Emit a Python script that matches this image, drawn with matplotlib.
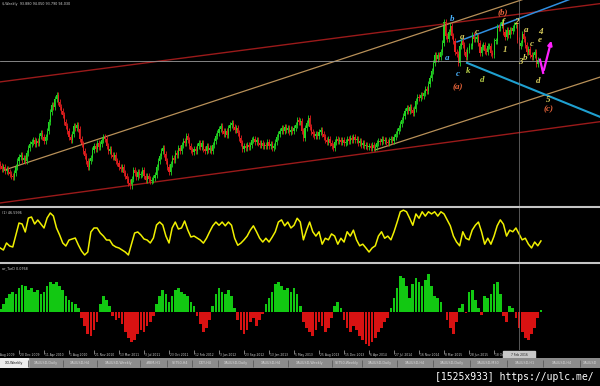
import numpy as np
import matplotlib.pyplot as plt
from matplotlib.patches import Rectangle

W, H = 600, 386


def px_rect(x0, y0, x1, y1):
    # figure rectangle from pixel box (top-left origin)
    return [x0 / W, 1 - y1 / H, (x1 - x0) / W, (y1 - y0) / H]


# ---- data: weekly closes, week 0 = 30 Aug 2009 ----
first_week = 4
first_open = 76.5
closes = [76.2, 75.6, 75.9, 75.3, 75.6, 75.1,
          74.8, 74.5, 74.3,
          74.9, 75.9, 76.9, 77.6,
          77.9, 77.1, 77.5, 76.9,
          78.3, 79.2, 79.8, 80.2,
          80.4, 79.8, 80.3, 79.9,
          81.1, 81.6, 81.0,
          80.3,
          81.0, 81.9, 83.4, 85.1,
          86.3, 86.0, 87.3, 88.0,
          86.7, 86.0, 85.2, 84.6, 83.5,
          82.8, 82.0, 81.0, 80.4, 81.5, 82.7, 82.4, 83.0, 82.3, 80.6, 79.8, 78.6, 77.8, 77.0, 76.0, 76.9,
          77.5, 78.8, 79.5, 79.0, 79.9, 79.3, 79.8,
          80.4, 81.0, 80.6,
          79.4, 78.6, 78.9, 78.0, 77.6,
          77.9, 77.0, 76.6, 76.0, 75.6, 75.9, 75.0, 74.4, 73.9, 73.4, 72.9,
          74.0, 75.5, 75.0, 74.3, 75.2, 74.6, 74.8, 75.4, 74.4, 73.8, 74.5, 74.0, 73.6,
          73.8, 74.2, 74.6,
          76.0, 77.0, 77.8, 78.6, 79.1,
          78.2, 77.0, 76.0, 75.1,
          76.4, 77.5, 77.2, 78.3, 78.0, 79.2,
          78.7, 79.6, 80.3, 80.0, 81.2,
          80.4, 79.5, 78.8, 78.4,
          78.9, 78.6, 79.5, 79.9, 79.3,
          80.0, 79.0, 78.6,
          79.4, 78.8, 79.2, 78.7,
          79.6, 80.3, 81.1, 81.6, 82.3, 82.8,
          82.0, 81.5, 81.9, 81.3,
          82.4, 83.0, 83.3,
          82.6, 82.2, 82.5, 81.6, 80.8, 79.9, 79.0,
          79.4, 79.2, 79.6, 79.3, 79.7,
          80.4, 80.6, 80.1, 80.5,
          79.9, 79.6, 80.0, 79.4, 79.7, 79.5,
          80.1, 79.4, 79.8, 79.2, 79.5,
          80.2, 80.9, 81.5, 81.9, 82.5,
          82.0, 82.6, 82.1, 82.4, 81.8, 82.2, 81.9, 82.5,
          83.0, 83.8, 83.4, 83.6,
          81.9, 80.8,
          82.4, 83.3, 84.1,
          82.6, 81.8, 81.4, 81.1,
          81.5, 81.1, 81.8, 82.1,
          81.4, 80.9, 80.5, 80.2, 80.6, 79.9, 79.4, 79.1,
          80.2, 80.6, 80.3,
          80.5, 80.1, 80.4, 80.0,
          80.2, 80.6, 80.3, 80.8, 80.5, 80.9, 80.4, 80.7,
          80.0, 80.3, 79.7, 79.9, 79.4, 79.6, 79.3,
          79.5, 79.2, 79.6, 79.1, 79.3,
          79.9, 80.3, 80.1, 80.6, 80.3, 80.5, 80.2,
          80.0, 80.4, 80.7, 80.3, 81.0,
          81.5, 81.9, 82.4, 83.1, 83.8, 84.4,
          85.2, 85.8, 85.3, 86.0, 85.4,
          84.9, 85.6,
          87.0, 87.6, 87.4, 88.0,
          87.7, 88.3, 88.9, 88.6,
          89.8, 90.7, 91.9, 93.2,
          94.5, 93.9, 94.6, 94.3, 95.1, 96.6,
          100.0, 97.8, 97.3, 98.4, 99.4, 97.8, 96.9, 95.1, 94.7, 93.3,
          96.0, 96.9, 96.3, 95.0, 94.2, 95.4, 96.0, 96.1, 97.9, 97.2,
          97.3, 97.5, 96.5, 94.9, 95.9, 96.2, 95.2, 95.1, 96.1, 96.1,
          94.9, 94.6, 96.9, 96.9, 99.2, 99.0, 99.6, 100.0, 98.4, 97.5,
          98.7, 97.9, 98.7, 98.5, 99.0, 99.6, 99.6, 97.0, 96.0, 96.6,
          98.1, 97.3, 96.2, 95.1, 95.6, 94.6, 94.2, 94.6, 95.1, 93.1,
          93.8]

# oscillator, every 2 weeks from week 4
osc = [25.9, 22.2, 35.2, 29.6, 27.8, 50, 72.2, 70.4, 55.6, 81.5, 83.3, 70.4, 77.8, 70.4, 63, 81.5,
       90.7, 85.2, 63, 50, 35.2, 29.6, 40.7, 42.6, 44.4, 31.5, 20.4, 13, 18.5, 55.6, 63, 63,
       53.7, 48.1, 40.7, 40.7, 31.5, 27.8, 25.9, 22.2, 18.5, 13, 33.3, 53.7, 55.6, 50, 42.6, 40.7,
       35.2, 44.4, 68.5, 74, 68.5, 48.1, 35.2, 63, 74, 61.1, 63, 75.9, 59.3, 46.3, 48.1, 44.4,
       40.7, 35, 44, 56, 67, 74, 68, 74, 67, 74, 68, 44, 31, 35, 41, 48, 59, 67, 56, 44,
       37, 44, 37, 46, 56, 74, 78, 67, 74, 63, 68, 81, 74, 41, 59, 74, 56, 48, 56, 33,
       44, 41, 52, 48, 33, 44, 37, 56, 48, 59, 41, 30, 33, 26, 18.5, 26, 30, 48, 56, 44,
       48, 41, 56, 74, 93, 96, 93, 81, 68, 89, 81, 93, 85, 93, 89, 93, 85, 93, 89, 78,
       67, 48, 37, 30, 56, 44, 41, 59, 68, 74, 56, 33, 44, 33, 48, 67, 78, 70, 48, 59,
       56, 63, 52, 41, 44, 33, 26, 37, 30, 39]

# histogram, every 2 weeks from week 4
hist = [0.006, 0.016, 0.028, 0.036, 0.040, 0.036, 0.048, 0.054, 0.052, 0.044,
        0.048, 0.040, 0.044, 0.036, 0.040, 0.052, 0.060, 0.056, 0.060, 0.052,
        0.044, 0.032, 0.024, 0.020, 0.016, 0.008, -0.012, -0.028, -0.044, -0.048,
        -0.036, -0.020, 0.016, 0.032, 0.024, 0.012, -0.008, -0.016, -0.012, -0.024,
        -0.040, -0.052, -0.060, -0.056, -0.044, -0.036, -0.040, -0.028, -0.020, -0.008,
        0.016, 0.032, 0.044, 0.036, 0.020, 0.032, 0.044, 0.048, 0.040, 0.036,
        0.032, 0.020, 0.012, -0.008, -0.024, -0.040, -0.032, -0.016, 0.012, 0.036,
        0.048, 0.040, 0.036, 0.044, 0.032, 0.008, -0.016, -0.036, -0.044, -0.036,
        -0.020, -0.012, -0.028, -0.016, -0.004, 0.016, 0.028, 0.040, 0.056, 0.060,
        0.052, 0.044, 0.048, 0.040, 0.048, 0.036, 0.012, -0.020, -0.032, -0.040,
        -0.048, -0.036, -0.020, -0.028, -0.040, -0.032, -0.012, 0.012, 0.020, 0.008,
        -0.016, -0.032, -0.040, -0.028, -0.036, -0.048, -0.056, -0.064, -0.068, -0.060,
        -0.052, -0.040, -0.032, -0.020, -0.012, 0.008, 0.028, 0.048, 0.072, 0.068,
        0.052, 0.028, 0.056, 0.068, 0.060, 0.052, 0.064, 0.076, 0.052, 0.032,
        0.028, 0.020, 0.000, -0.016, -0.032, -0.044, -0.020, 0.008, 0.016, -0.002,
        0.040, 0.044, 0.024, 0.008, -0.006, 0.032, 0.028, 0.036, 0.056, 0.060,
        0.036, -0.008, -0.020, 0.012, 0.008, -0.012, -0.032, -0.040, -0.052, -0.056,
        -0.044, -0.032, -0.012, 0.004]

date_labels = ['30 Aug 2009', '20 Dec 2009', '11 Apr 2010', '1 Aug 2010', '21 Nov 2010',
               '13 Mar 2011', '3 Jul 2011', '23 Oct 2011', '12 Feb 2012', '3 Jun 2012',
               '23 Sep 2012', '13 Jan 2013', '5 May 2013', '25 Aug 2013', '15 Dec 2013',
               '6 Apr 2014', '27 Jul 2014', '16 Nov 2014', '8 Mar 2015', '28 Jun 2015',
               '18 Oct 2015']
cursor_week = 336
cursor_price = 93.6
cursor_date = '7 Feb 2016'

# trend lines (week, price) pairs
trend_lines = [
    ((3.8, 90.1), (387.8, 103.1), '#9a1a1a', 1.0),   # upper red
    ((7.0, 75.5), (387.8, 108.0), '#b89058', 0.9),   # upper tan
    ((3.8, 70.0), (387.8, 83.5), '#9a1a1a', 1.0),    # lower red
    ((243.8, 78.8), (387.8, 90.9), '#b89058', 0.9),  # lower tan
    ((296.3, 96.75), (387.8, 105.7), '#2f8fe0', 1.1),  # blue channel top
    ((302.7, 93.26), (387.8, 84.3), '#1fa0d0', 1.5),   # cyan channel bottom
]
arrow_pts = [(349.4, 93.8), (351.4, 91.6), (357.1, 97.4)]

# wave labels: text, week, price, colour
wave_labels = [
    ('b', 293.1, 100.6, '#4ab4ff'), ('a', 289.9, 94.1, '#4ab4ff'),
    ('(b)', 325.8, 101.6, '#e8643a'), ('a', 299.5, 97.6, '#d8cc5c'),
    ('c', 309.1, 98.4, '#d8cc5c'), ('f', 325.8, 100.1, '#d8cc5c'),
    ('2', 334.1, 100.1, '#d8cc5c'), ('a', 340.5, 98.7, '#d8cc5c'),
    ('4', 349.4, 98.4, '#d8cc5c'), ('e', 349.4, 97.1, '#d8cc5c'),
    ('1', 327.0, 95.4, '#d8cc5c'), ('c', 344.3, 96.4, '#d8cc5c'),
    ('3', 336.6, 93.4, '#d8cc5c'), ('b', 339.8, 94.1, '#d8cc5c'),
    ('c', 296.9, 91.4, '#4ab4ff'), ('k', 303.4, 91.9, '#b8d048'),
    ('d', 312.3, 90.4, '#b8d048'), ('d', 348.2, 90.3, '#d8cc5c'),
    ('(a)', 296.9, 89.3, '#e8643a'), ('5', 354.6, 87.1, '#d8cc5c'),
    ('(c)', 354.6, 85.5, '#e8643a'),
]

tab_names = ['XD,Weekly', 'XAUUSD,Daily', 'XAUUSD,H4', 'XAUUSD,Weekly', '#IBM,H1',
             'SET50,H4', 'DXY,H4', 'XAUUSD,Daily', 'XAUUSD,H4', 'XAUUSD,Weekly',
             'SET50,Weekly', 'XAUUSD,Daily', 'XAUUSD,H4', 'XAUUSD,Daily', 'XAUUSD,M30',
             'XAUUSD,H1', 'XAUUSD,H4', 'XAUUSD']
tab_edges = [0, 28, 63, 97, 140, 167, 192, 218, 253, 288, 332, 362, 397, 433, 470,
             507, 543, 580, 600]

# ---- figure ----
UP, DOWN = '#22d422', '#e41e1e'
XLIM = (3.84, 387.8)
SMALL = 2.4

fig = plt.figure(figsize=(6, 3.86), dpi=100, facecolor='black')

ax = fig.add_axes(px_rect(0, 0, 600, 206))
ax_osc = fig.add_axes(px_rect(0, 208, 600, 262))
ax_hist = fig.add_axes(px_rect(0, 264, 600, 350))
ax_time = fig.add_axes(px_rect(0, 350, 600, 358))
for a in (ax, ax_osc, ax_hist, ax_time):
    a.set_facecolor('black')
    a.set_xlim(XLIM)
    a.set_xticks([])
    a.set_yticks([])
    for s in a.spines.values():
        s.set_visible(False)

# candles
weeks = np.arange(first_week, first_week + len(closes))
c = np.array(closes)
o = np.concatenate([[first_open], c[:-1]])
up = c >= o
cols = np.where(up, UP, DOWN)
top = np.maximum(o, c)
bot = np.minimum(o, c)
wick = 0.5
ax.vlines(weeks, bot - wick, top + wick, colors=cols, lw=0.6)
ax.bar(weeks, np.maximum(top - bot, 0.08), bottom=bot, width=0.7, color=cols, lw=0)
ax.set_ylim(69.5, 103.7)

for (x0, y0), (x1, y1), col, lw in trend_lines:
    ax.plot([x0, x1], [y0, y1], color=col, lw=lw, zorder=1)

ax.axhline(cursor_price, color='#9a9a9a', lw=0.6)
ax.plot([p[0] for p in arrow_pts[:2]], [p[1] for p in arrow_pts[:2]], color='#ff20ff', lw=1.6)
ax.annotate('', xy=arrow_pts[2], xytext=arrow_pts[1],
            arrowprops=dict(arrowstyle='-|>', color='#ff20ff', lw=1.6, mutation_scale=6))

for txt, wx, wy, col in wave_labels:
    ax.text(wx, wy, txt, color=col, fontsize=6.5, family='Liberation Serif',
            style='italic', weight='bold', ha='center', va='center')

fig.text(2 / W, 1 - 2 / H, '$,Weekly  93.880 94.050 93.790 94.030', color='#d0d0d0',
         fontsize=SMALL, va='top', ha='left')

# oscillator
osc_weeks = np.arange(first_week, first_week + 2 * len(osc), 2)
ax_osc.plot(osc_weeks, osc, color='#f0f000', lw=1.1)
ax_osc.set_ylim(0, 100)
ax_osc.text(0.004, 0.95, '(1) 46.5996', transform=ax_osc.transAxes, color='#d0d0d0',
            fontsize=SMALL, va='top')

# histogram
hist_weeks = np.arange(first_week, first_week + 2 * len(hist), 2)
hv = np.array(hist)
ax_hist.bar(hist_weeks, hv, width=1.7, color=np.where(hv >= 0, '#12c812', '#d81212'), lw=0)
ax_hist.set_ylim(-0.076, 0.096)
ax_hist.text(0.004, 0.97, 'ar_TurD 0.0768', transform=ax_hist.transAxes, color='#d0d0d0',
             fontsize=SMALL, va='top')

for a in (ax, ax_osc, ax_hist):
    a.axvline(cursor_week, color='#7a7a7a', lw=0.5)

# separators between windows
for yp in (207, 263):
    fig.add_artist(plt.Line2D([0, 1], [1 - yp / H] * 2, color='#c4c4c4', lw=1.5))

# time axis
ax_time.set_ylim(0, 1)
for k, lab in enumerate(date_labels):
    wk = 16 * k
    ax_time.vlines(wk, 0.55, 1.0, color='#b0b0b0', lw=0.5)
    ax_time.text(wk + 0.8, 0.35, lab, color='#c8c8c8', fontsize=2.2, va='center', ha='left')
ax_time.add_patch(Rectangle((cursor_week - 10, 0.0), 20, 0.9, color='#c8c8c8', zorder=5))
ax_time.text(cursor_week, 0.42, cursor_date, color='#202020', fontsize=2.2,
             va='center', ha='center', zorder=6)

# tab bar
ax_tab = fig.add_axes(px_rect(0, 358, 600, 368))
ax_tab.set_xlim(0, 600)
ax_tab.set_ylim(0, 1)
ax_tab.axis('off')
ax_tab.add_patch(Rectangle((0, 0), 600, 1, color='#8c8c8c'))
for k, name in enumerate(tab_names):
    x0, x1 = tab_edges[k], tab_edges[k + 1]
    if k == 0:
        ax_tab.add_patch(Rectangle((x0, 0), x1 - x0, 1, color='#ececec'))
        tc = '#101010'
    else:
        tc = '#d8d8d8'
    ax_tab.vlines(x1, 0.15, 0.85, color='#5a5a5a', lw=0.6)
    ax_tab.text((x0 + x1) / 2, 0.5, name, color=tc, fontsize=2.4, ha='center', va='center',
                clip_on=True)

fig.text(594 / W, 1 - 377 / H, '[1525x933] https://uplc.me/', color='white',
         family='DejaVu Sans Mono', fontsize=7.0, ha='right', va='center')

fig.savefig('out.png', dpi=100, facecolor='black')
